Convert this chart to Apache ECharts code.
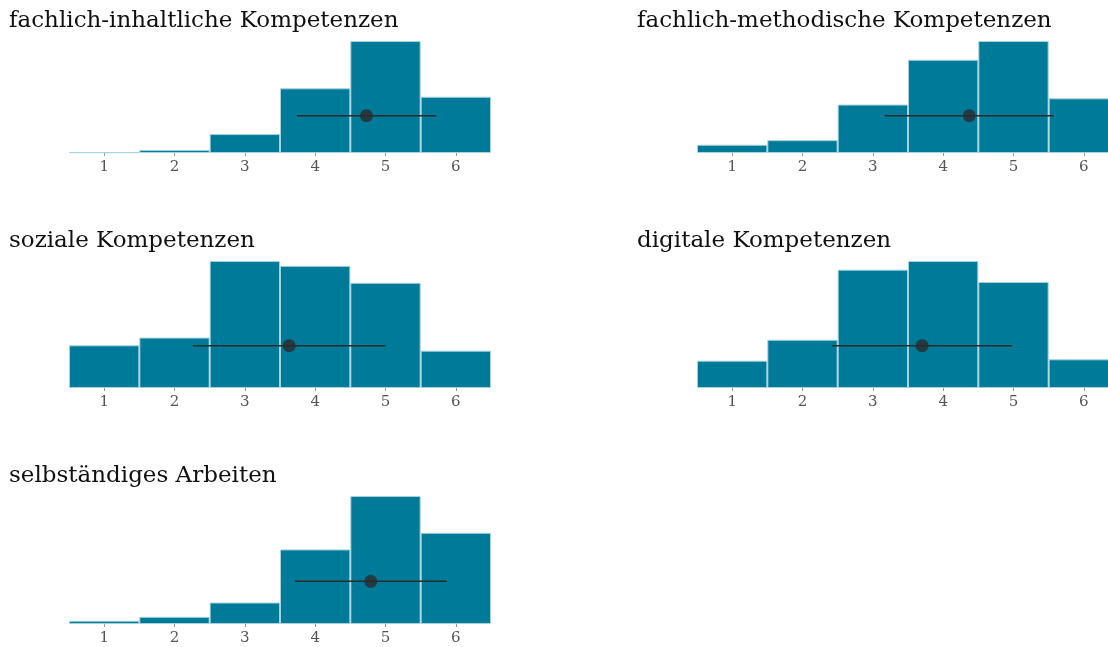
<!DOCTYPE html>
<html lang="de">
<head>
    <meta charset="UTF-8">
    <script src="https://cdn.jsdelivr.net/npm/echarts@6/dist/echarts.min.js"></script>
    <style>
        body { margin: 0; background: #fff; overflow: hidden; }
    </style>
</head>
<body>
<div id="chart" style="width: 1108px;height: 647px"></div>
<script>
    // Antwortskala 1..6
    var categories = ['1', '2', '3', '4', '5', '6'];

    var titles = [
        'fachlich-inhaltliche Kompetenzen',
        'fachlich-methodische Kompetenzen',
        'soziale Kompetenzen',
        'digitale Kompetenzen',
        'selbständiges Arbeiten'
    ];

    // Anteile in % je Antwortstufe
    var inhaltlich = [0.3, 1.2, 7.4, 25.3, 43.8, 22.0];
    var methodisch = [2.5, 3.9, 14.7, 28.3, 34.0, 16.6];
    var sozial = [8.8, 10.4, 26.2, 25.2, 21.7, 7.7];
    var digital = [6.0, 10.6, 26.0, 27.9, 23.3, 6.3];
    var selbstaendig = [1.0, 2.2, 6.6, 22.9, 39.3, 28.0];

    // Mittelwert und Standardabweichung
    var means = [4.73, 4.37, 3.63, 3.70, 4.79];
    var sds = [0.99, 1.20, 1.37, 1.28, 1.08];

    var values = [inhaltlich, methodisch, sozial, digital, selbstaendig];

    var font = 'DejaVu Serif';
    var barColor = '#007a99';

    // plot area of each panel + title position
    var panels = [
        {left: 69, top: 41, height: 112, tLeft: 9, tTop: 10},
        {left: 697, top: 41, height: 112, tLeft: 637, tTop: 10},
        {left: 69, top: 261, height: 127, tLeft: 9, tTop: 230},
        {left: 697, top: 261, height: 127, tLeft: 637, tTop: 230},
        {left: 69, top: 496, height: 128, tLeft: 9, tTop: 465}
    ];

    var mychart = echarts.init(document.getElementById('chart'));

    var grid = [], xAxis = [], yAxis = [], series = [], title = [];

    panels.forEach(function (p, i) {
        var vals = values[i];
        var yMax = Math.max.apply(null, vals);
        var markY = yMax / 3;

        title.push({
            text: titles[i],
            left: p.tLeft,
            top: p.tTop,
            padding: 0,
            textStyle: {fontFamily: font, fontSize: 23, fontWeight: 'normal', color: '#111'}
        });

        grid.push({left: p.left, top: p.top, width: 422, height: p.height, outerBoundsMode: 'none'});

        // category axis for the bars
        xAxis.push({
            type: 'category',
            gridIndex: i,
            data: categories,
            axisLine: {show: false},
            axisTick: {show: true, alignWithLabel: true, length: 3, lineStyle: {color: '#999'}},
            axisLabel: {fontFamily: font, fontSize: 15, color: '#555', margin: 7},
            splitLine: {show: false}
        });
        // value axis for mean +/- sd
        xAxis.push({
            type: 'value',
            gridIndex: i,
            min: 0.5,
            max: 6.5,
            show: false
        });

        yAxis.push({
            type: 'value',
            gridIndex: i,
            min: 0,
            max: yMax,
            show: false
        });

        series.push({
            type: 'bar',
            xAxisIndex: i * 2,
            yAxisIndex: i,
            data: vals,
            barCategoryGap: 0,
            itemStyle: {color: barColor, borderColor: '#a6d2dd', borderWidth: 1},
            silent: true
        });

        series.push({
            type: 'line',
            xAxisIndex: i * 2 + 1,
            yAxisIndex: i,
            data: [[means[i] - sds[i], markY], [means[i] + sds[i], markY]],
            symbol: 'none',
            lineStyle: {color: '#2b2b2b', width: 1.5},
            silent: true,
            z: 5
        });

        series.push({
            type: 'scatter',
            xAxisIndex: i * 2 + 1,
            yAxisIndex: i,
            data: [[means[i], markY]],
            symbolSize: 13,
            itemStyle: {color: '#2b2b2b'},
            silent: true,
            z: 6
        });
    });

    var option = {
        animation: false,
        backgroundColor: '#fff',
        title: title,
        grid: grid,
        xAxis: xAxis,
        yAxis: yAxis,
        series: series
    };

    mychart.setOption(option);
</script>
</body>
</html>
